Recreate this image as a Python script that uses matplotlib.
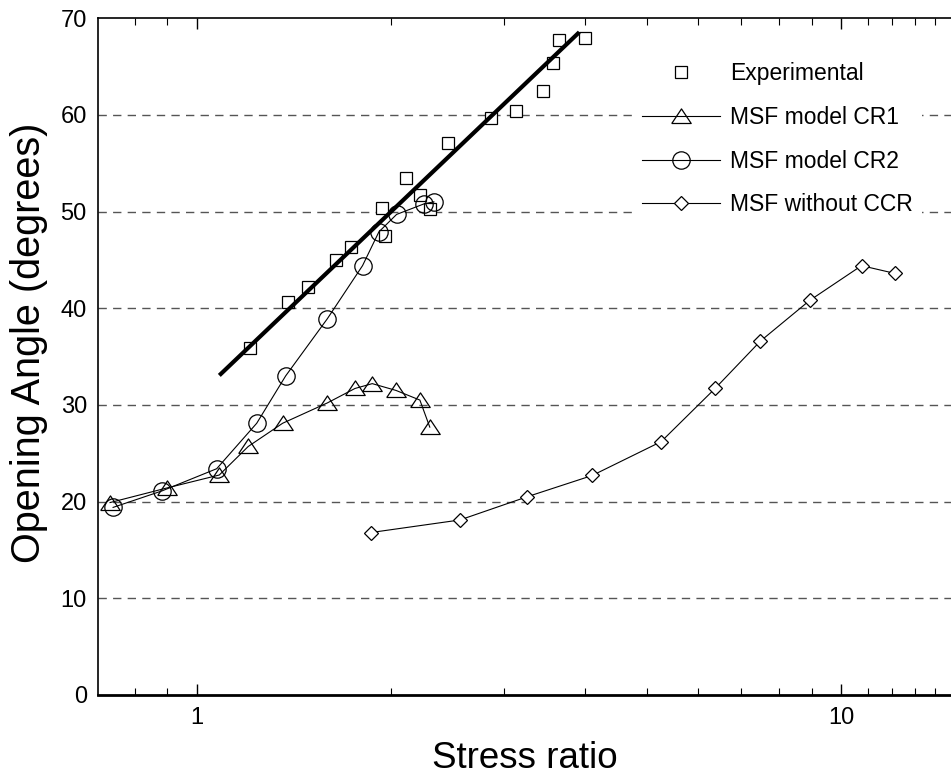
import numpy as np
import matplotlib
matplotlib.use("Agg")
from matplotlib import pyplot as plt
from matplotlib.ticker import FixedLocator, FixedFormatter, NullFormatter

plt.rcParams['font.family'] = ['Liberation Sans', 'DejaVu Sans']

# experimental opening angles
exp_x = [1.208, 1.384, 1.487, 1.643, 1.734, 1.937, 1.957, 2.11, 2.218, 2.298,
         2.452, 2.858, 3.126, 3.44, 3.57, 3.645, 4.0]
exp_y = [35.9, 40.6, 42.2, 45.0, 46.3, 50.4, 47.5, 53.5, 51.7, 50.3,
         57.1, 59.7, 60.4, 62.5, 65.4, 67.7, 67.9]

# straight fit through the experiments (linear in log x)
fit_x = [1.089, 3.90]
fit_y = [33.2, 68.4]

cr1_x = [0.733, 0.897, 1.083, 1.201, 1.358, 1.593, 1.759, 1.871, 2.036, 2.218, 2.298]
cr1_y = [19.9, 21.4, 22.75, 25.7, 28.1, 30.2, 31.7, 32.2, 31.5, 30.5, 27.7]

cr2_x = [0.741, 0.882, 1.073, 1.238, 1.373, 1.593, 1.807, 1.916, 2.041, 2.253, 2.332]
cr2_y = [19.4, 21.1, 23.4, 28.1, 33.0, 38.9, 44.4, 47.9, 49.7, 50.8, 51.0]

noccr_x = [1.862, 2.559, 3.254, 4.106, 5.253, 6.37, 7.49, 8.93, 10.75, 12.11]
noccr_y = [16.8, 18.1, 20.5, 22.7, 26.2, 31.7, 36.6, 40.8, 44.4, 43.6]

# flattened open triangle
tri = [(-1, -0.72), (1, -0.72), (0, 0.78), (-1, -0.72)]

fig = plt.figure(figsize=(9.51, 7.78), dpi=100)
ax = fig.add_axes([0.103, 0.1067, 0.897, 0.870])

for yv in range(10, 70, 10):
    ax.axhline(yv, color='#555555', lw=1.0, ls=(0, (6, 4.5)), zorder=0)

ax.plot(fit_x, fit_y, color='black', lw=3.0, zorder=3)
ax.plot(exp_x, exp_y, ls='none', marker='s', ms=8.5, mfc='white', mec='black',
        mew=0.9, label='Experimental', zorder=2)
ax.plot(cr1_x, cr1_y, color='black', lw=0.8, marker=tri, ms=14, mfc='none',
        mec='black', mew=0.9, label='MSF model CR1', zorder=4)
ax.plot(cr2_x, cr2_y, color='black', lw=0.8, marker='o', ms=12.5, mfc='none',
        mec='black', mew=0.9, label='MSF model CR2', zorder=4)
ax.plot(noccr_x, noccr_y, color='black', lw=0.8, marker='D', ms=7, mfc='white',
        mec='black', mew=0.9, label='MSF without CCR', zorder=4)

ax.set_xscale('log')
ax.set_xlim(0.702, 14.8)
ax.set_ylim(0, 70)

ax.xaxis.set_major_locator(FixedLocator([1, 10]))
ax.xaxis.set_major_formatter(FixedFormatter(['1', '10']))
minors = [0.8, 0.9] + list(range(2, 10)) + [11, 12, 13, 14]
ax.xaxis.set_minor_locator(FixedLocator(minors))
ax.xaxis.set_minor_formatter(NullFormatter())
ax.set_yticks(range(0, 80, 10))

ax.tick_params(axis='x', which='major', direction='in', length=8, width=1,
               top=True, labelsize=17, pad=9)
ax.tick_params(axis='x', which='minor', direction='in', length=5, width=0.8,
               top=True)
ax.tick_params(axis='y', length=0, labelsize=17, pad=8)

ax.spines['right'].set_visible(False)
for s in ['left', 'top', 'bottom']:
    ax.spines[s].set_linewidth(1.2)
ax.spines['bottom'].set_linewidth(2.0)

ax.set_xlabel('Stress ratio', fontsize=26.5, labelpad=8)
ax.set_ylabel('Opening Angle (degrees)', fontsize=28.5)
ax.yaxis.set_label_coords(-0.059, 0.52)

leg = ax.legend(loc='upper left', bbox_to_anchor=(0.627, 0.948), fontsize=16.5,
                frameon=True, fancybox=False, edgecolor='none', framealpha=1,
                handlelength=3.4, labelspacing=0.9, handletextpad=0.45,
                borderaxespad=0.0, numpoints=1)

fig.savefig('out.png', dpi=100)
